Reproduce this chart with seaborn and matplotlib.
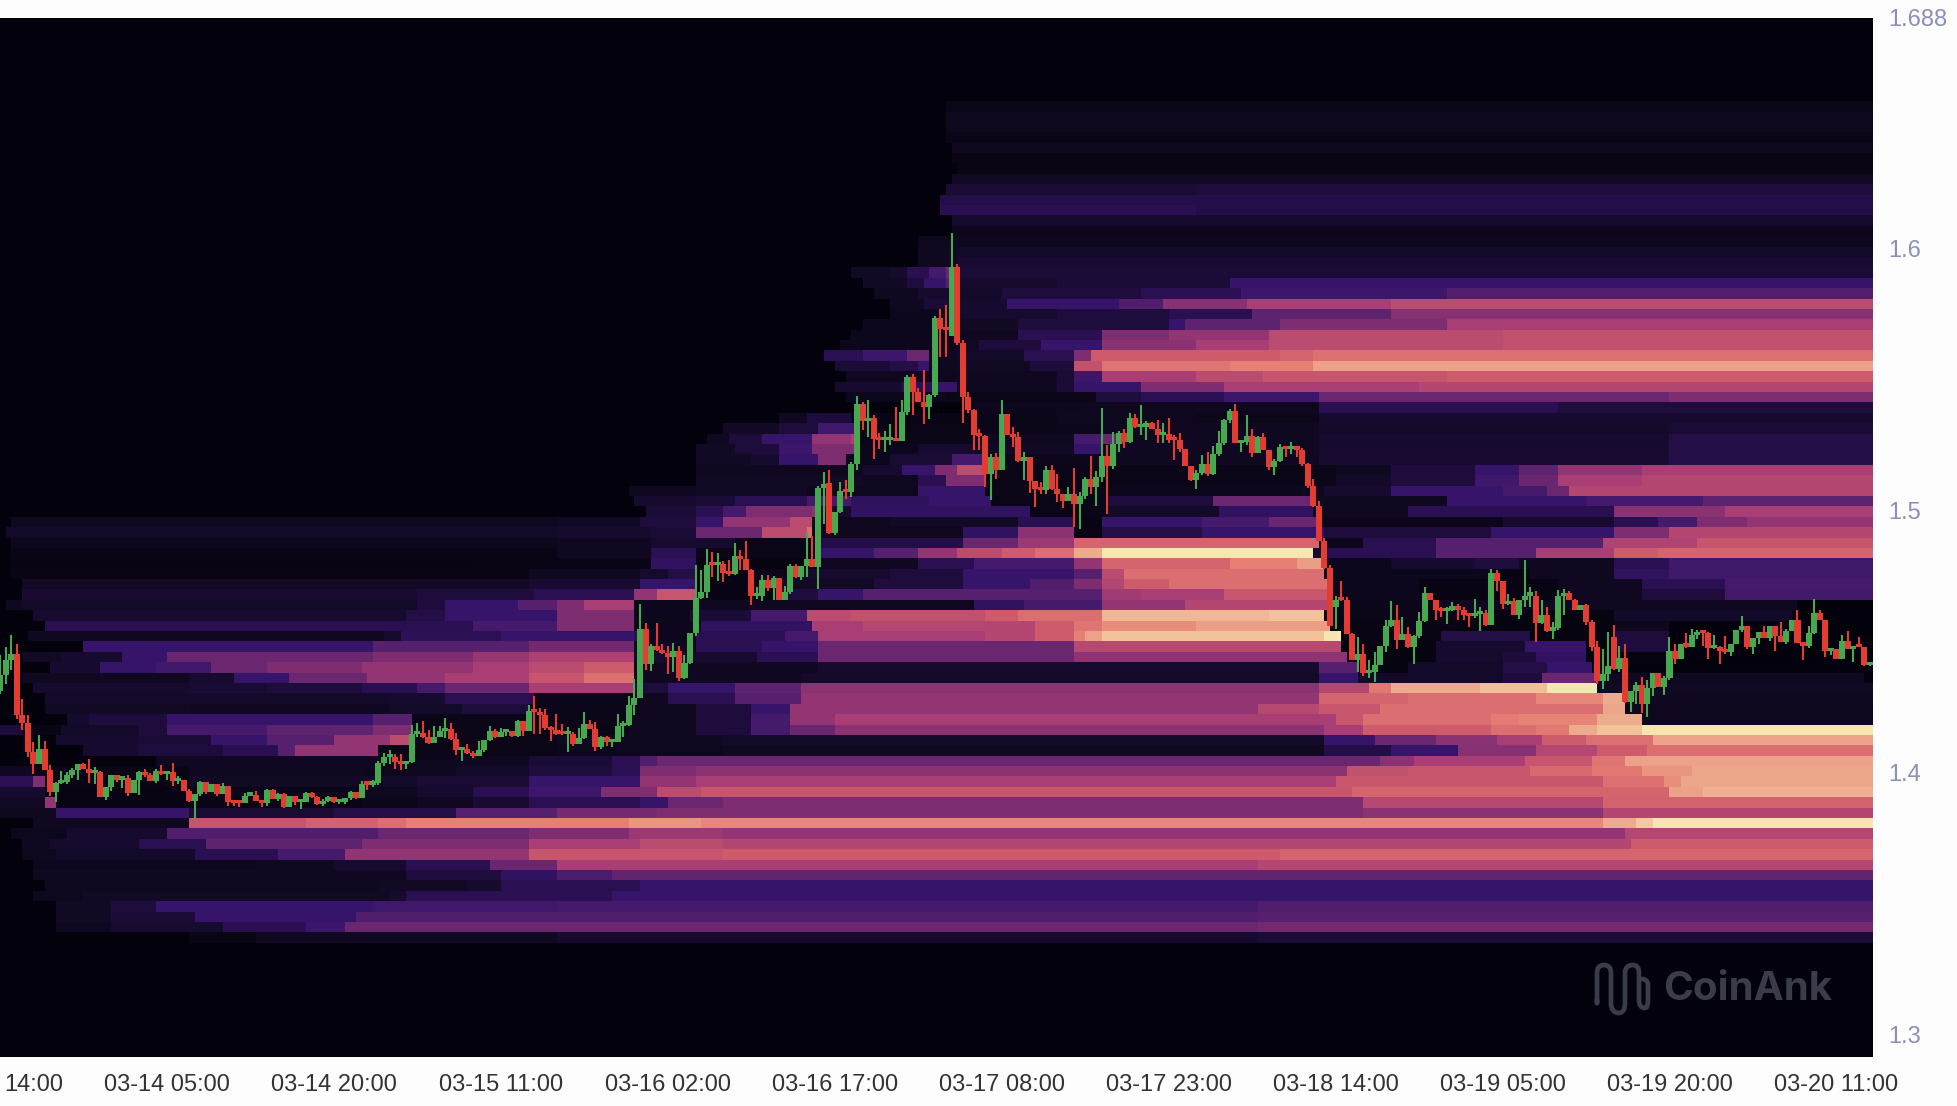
import numpy as np
import seaborn as sns
import matplotlib
matplotlib.use("Agg")
import matplotlib.pyplot as plt
from matplotlib.colors import LinearSegmentedColormap
from matplotlib.path import Path
from matplotlib.patches import PathPatch

# ---------- candles, one every 30 min from 03-13 14:00 ----------
closes = [
1.437,1.4427,1.4453,1.4217,1.4189,1.4077,1.4032,1.409,1.4009,1.3926,
1.396,1.3962,1.3988,1.4007,1.403,1.4011,1.3997,1.4,1.3907,1.3943,
1.3991,1.3972,1.3979,1.392,1.3971,1.4,1.3991,1.3968,1.4004,1.3994,
1.4,1.3965,1.3971,1.393,1.389,1.3918,1.3962,1.3924,1.3956,1.3918,
1.3949,1.3886,1.3883,1.3882,1.3911,1.3915,1.389,1.3883,1.3933,1.3898,
1.3918,1.3867,1.3909,1.3886,1.3886,1.3921,1.3905,1.3879,1.3889,1.3904,
1.3885,1.3887,1.3902,1.3924,1.3902,1.3955,1.3953,1.396,1.4036,1.4057,
1.4057,1.4038,1.4032,1.4041,1.4146,1.4149,1.4134,1.4111,1.4134,1.4159,
1.4166,1.4127,1.4086,1.4089,1.4073,1.4061,1.4086,1.4125,1.4157,1.4134,
1.4154,1.4157,1.4139,1.4195,1.4159,1.4233,1.423,1.422,1.4168,1.4162,
1.4146,1.4145,1.4146,1.4108,1.413,1.4185,1.4166,1.4095,1.4136,1.4115,
1.4116,1.4176,1.4181,1.4258,1.4284,1.4548,1.4414,1.4482,1.4468,1.4455,
1.4442,1.4463,1.4361,1.4418,1.4533,1.4666,1.4687,1.4792,1.479,1.4794,
1.4762,1.4756,1.4824,1.4815,1.4771,1.4672,1.4675,1.4733,1.4705,1.4743,
1.4656,1.4689,1.4787,1.4745,1.4787,1.4815,1.4784,1.5087,1.509,1.4913,
1.4994,1.5074,1.507,1.5178,1.5405,1.5342,1.5352,1.5274,1.527,1.527,
1.5278,1.5264,1.5375,1.5509,1.5452,1.5414,1.5395,1.544,1.5735,1.5694,
1.5688,1.593,1.5639,1.5432,1.5382,1.5287,1.5283,1.514,1.5204,1.5155,
1.5369,1.5287,1.528,1.5188,1.5204,1.5112,1.5083,1.5076,1.5153,1.5083,
1.5064,1.5035,1.5061,1.5025,1.5055,1.5118,1.509,1.5127,1.5208,1.5169,
1.5252,1.5297,1.5261,1.5354,1.5318,1.5318,1.5334,1.5312,1.5287,1.5293,
1.527,1.5268,1.5236,1.5168,1.5117,1.5144,1.5176,1.514,1.5214,1.5259,
1.5344,1.538,1.5257,1.5261,1.5284,1.5219,1.528,1.5232,1.5166,1.5189,
1.5241,1.5235,1.5237,1.5232,1.5178,1.5095,1.5015,1.4885,1.4781,1.456,
1.4658,1.4656,1.4529,1.443,1.4452,1.4378,1.4382,1.4411,1.4481,1.4558,
1.4583,1.4507,1.4529,1.4478,1.452,1.4577,1.4685,1.4658,1.4618,1.4615,
1.4618,1.4634,1.462,1.4601,1.4595,1.4605,1.4607,1.4564,1.4762,1.4729,
1.4643,1.4653,1.4599,1.4656,1.4675,1.4675,1.4569,1.4602,1.4541,1.4551,
1.4672,1.4685,1.4658,1.4618,1.4638,1.4573,1.4478,1.435,1.4375,1.4404,
1.4395,1.4436,1.4267,1.431,1.4335,1.4261,1.432,1.438,1.4327,1.4361,
1.4465,1.4433,1.4488,1.448,1.4523,1.4532,1.4531,1.4475,1.4475,1.4465,
1.4459,1.449,1.4545,1.4557,1.4478,1.4511,1.4536,1.4513,1.4558,1.4522,
1.4497,1.4539,1.458,1.4493,1.4484,1.4532,1.4609,1.4582,1.4462,1.4469,
1.4431,1.4501,1.4471,1.4481,1.4478,1.4408,1.4414]
highs = [
1.4446,1.448,1.4525,1.4488,1.428,1.4217,1.4115,1.4143,1.4121,1.4026,
1.3962,1.4004,1.4,1.4017,1.4032,1.4035,1.4051,1.4022,1.4004,1.3943,
1.3991,1.3991,1.3981,1.3988,1.3971,1.4004,1.4013,1.3996,1.4013,1.4026,
1.4003,1.4035,1.3984,1.3971,1.3937,1.3918,1.3968,1.3961,1.3956,1.3956,
1.3958,1.3949,1.389,1.389,1.392,1.392,1.393,1.3894,1.3937,1.3937,
1.392,1.392,1.3911,1.3909,1.3892,1.3924,1.3926,1.3911,1.3898,1.3911,
1.3904,1.3898,1.3902,1.393,1.3924,1.3965,1.3958,1.3971,1.4045,1.4074,
1.4085,1.407,1.407,1.4045,1.418,1.4189,1.4195,1.4162,1.4175,1.4175,
1.4208,1.4187,1.4149,1.4095,1.4108,1.4083,1.4121,1.4125,1.4178,1.4165,
1.4169,1.4162,1.4157,1.42,1.4195,1.4258,1.4293,1.4246,1.4242,1.4178,
1.4222,1.4185,1.4172,1.4153,1.4169,1.423,1.42,1.4191,1.414,1.414,
1.4121,1.4223,1.4195,1.4293,1.4357,1.4643,1.457,1.4488,1.457,1.4491,
1.4484,1.4493,1.4484,1.4446,1.4533,1.479,1.4773,1.4854,1.4841,1.4838,
1.4806,1.4809,1.4877,1.4847,1.4885,1.4777,1.4707,1.4752,1.4752,1.4748,
1.4743,1.471,1.4794,1.4794,1.4787,1.4917,1.4901,1.5093,1.5147,1.5156,
1.4994,1.5108,1.5115,1.5185,1.5436,1.5414,1.5421,1.5363,1.5296,1.5303,
1.5331,1.5395,1.5421,1.5516,1.5522,1.5467,1.5535,1.5446,1.5742,1.577,
1.5783,1.606,1.594,1.565,1.5453,1.5388,1.5312,1.5287,1.5217,1.5219,
1.5423,1.5369,1.5318,1.5299,1.5223,1.5204,1.5112,1.5108,1.5168,1.5172,
1.5138,1.5064,1.509,1.5163,1.507,1.5127,1.5206,1.515,1.5392,1.5248,
1.5299,1.5305,1.5309,1.5372,1.5367,1.5401,1.5342,1.5338,1.5346,1.5334,
1.5354,1.5287,1.5295,1.5236,1.5168,1.5155,1.521,1.5223,1.5245,1.5303,
1.535,1.5388,1.5405,1.5261,1.5363,1.5312,1.5284,1.5295,1.5232,1.5195,
1.5255,1.524,1.5261,1.5243,1.524,1.518,1.512,1.5036,1.4895,1.4793,
1.4675,1.4729,1.4671,1.4531,1.4516,1.4488,1.4427,1.4458,1.4481,1.4582,
1.4653,1.4637,1.4592,1.4554,1.4526,1.4611,1.4707,1.4685,1.4658,1.4633,
1.4633,1.465,1.4641,1.4633,1.4605,1.4662,1.4633,1.4618,1.4777,1.4771,
1.4729,1.4681,1.4666,1.4656,1.4811,1.4709,1.4694,1.4656,1.4633,1.4573,
1.4697,1.47,1.4694,1.4662,1.4638,1.4643,1.458,1.4501,1.4471,1.4535,
1.4561,1.4484,1.449,1.431,1.4344,1.4363,1.4353,1.438,1.438,1.4369,
1.4516,1.449,1.4488,1.4531,1.4548,1.4544,1.4541,1.4535,1.4526,1.4484,
1.4522,1.449,1.4545,1.4595,1.4557,1.4511,1.4536,1.4557,1.4558,1.4558,
1.4573,1.4548,1.458,1.462,1.4493,1.4557,1.4662,1.4618,1.4582,1.4469,
1.4469,1.4526,1.4539,1.4481,1.4516,1.4478,1.442]
lows = [
1.43,1.4338,1.4389,1.4202,1.416,1.4058,1.3994,1.403,1.4007,1.3909,
1.3888,1.3956,1.3956,1.3977,1.3971,1.4011,1.3958,1.3956,1.3905,1.3895,
1.393,1.3962,1.3939,1.3911,1.3924,1.3915,1.3981,1.3965,1.396,1.3988,
1.3971,1.3949,1.3956,1.3928,1.3886,1.3819,1.3911,1.3918,1.3924,1.3911,
1.3918,1.3873,1.3873,1.3867,1.3882,1.3909,1.389,1.3869,1.3873,1.3898,
1.3892,1.3864,1.3873,1.3877,1.3858,1.3886,1.3901,1.3877,1.387,1.3888,
1.3884,1.3879,1.3879,1.3894,1.3898,1.3907,1.3934,1.3943,1.3953,1.4023,
1.4032,1.4013,1.401,1.4013,1.4036,1.4134,1.4131,1.4108,1.4111,1.4134,
1.4131,1.4125,1.4067,1.4044,1.407,1.4053,1.4061,1.4076,1.4119,1.4131,
1.4134,1.414,1.4134,1.4134,1.414,1.4159,1.4146,1.4146,1.4162,1.4119,
1.4144,1.4144,1.4076,1.4102,1.4111,1.4127,1.4164,1.408,1.4088,1.4102,
1.4095,1.4115,1.4134,1.4177,1.422,1.4284,1.4389,1.4386,1.4465,1.4452,
1.4376,1.4382,1.435,1.4357,1.4414,1.4522,1.4662,1.4666,1.4745,1.473,
1.4726,1.4749,1.4752,1.4771,1.4771,1.4637,1.4662,1.4654,1.4694,1.4656,
1.4656,1.4656,1.4682,1.4743,1.4735,1.4745,1.4784,1.4701,1.4949,1.4908,
1.4905,1.4991,1.5045,1.5051,1.5153,1.5308,1.528,1.5198,1.5236,1.5223,
1.5249,1.5264,1.5264,1.5363,1.5363,1.5414,1.5331,1.535,1.5433,1.5586,
1.5586,1.5666,1.563,1.5332,1.537,1.5229,1.5229,1.5089,1.5041,1.5121,
1.5153,1.5287,1.5242,1.5185,1.5115,1.5066,1.5013,1.5064,1.5064,1.5079,
1.5032,1.501,1.5034,1.4936,1.493,1.5044,1.5064,1.5017,1.5108,1.4985,
1.5159,1.5223,1.5239,1.5257,1.5316,1.5287,1.527,1.5312,1.5257,1.5257,
1.5257,1.5191,1.5223,1.5168,1.5112,1.5083,1.5134,1.513,1.5137,1.5208,
1.5248,1.5335,1.5257,1.5223,1.5248,1.5204,1.5222,1.5232,1.5155,1.5134,
1.5183,1.5204,1.5215,1.5205,1.517,1.5085,1.5013,1.4883,1.4777,1.4558,
1.4548,1.4653,1.4529,1.4427,1.4382,1.4369,1.436,1.4344,1.4411,1.4458,
1.4554,1.4471,1.4509,1.4475,1.4414,1.4513,1.4573,1.4658,1.4582,1.4592,
1.4567,1.4615,1.4582,1.4582,1.4554,1.459,1.4539,1.4558,1.4564,1.4694,
1.4624,1.4637,1.4599,1.4586,1.4633,1.4631,1.4497,1.4567,1.4535,1.4509,
1.4545,1.4602,1.4658,1.4618,1.4618,1.4564,1.4462,1.4338,1.4319,1.435,
1.4389,1.4382,1.4264,1.4229,1.4261,1.4225,1.421,1.4293,1.4327,1.4297,
1.4354,1.4414,1.4433,1.4474,1.448,1.4509,1.4484,1.4433,1.4471,1.4414,
1.4452,1.4443,1.4488,1.4535,1.4471,1.4452,1.449,1.4513,1.4503,1.4465,
1.4497,1.449,1.4539,1.4493,1.4427,1.4475,1.4529,1.4582,1.4442,1.4446,
1.4431,1.444,1.4471,1.442,1.4478,1.4404,1.4404]
open_gaps = {149: 1.5105, 171: 1.5666, 240: 1.4630, 290: 1.4516}

# ---------- liquidation intensity (0..10) per price row: (candle index where level starts, level) ----------
row_levels = {
8: [(170,.6)], 9: [(170,.9)], 10: [(170,.9)], 11: [(170,.6)], 12: [(171,.9)], 13: [(171,.5)],
14: [(172,.5)], 15: [(171,1.2)], 16: [(170,1.7),(215,2)], 17: [(169,2.3)], 18: [(169,2.5),(215,2.3)],
19: [(171,1.5)], 20: [(171,.7)], 21: [(165,.9)], 22: [(165,1),(172,1.3)], 23: [(165,1),(172,1.6)],
24: [(153,1.2),(160,1.5),(163,2.5),(167,3.5),(170,4.5),(172,1.8)],
25: [(155,1.2),(163,2),(166,3),(170,4),(172,1.5),(190,1.8),(221,3)],
26: [(157,1),(165,1.5),(172,1.3),(180,2),(205,2.5),(223,3.2),(260,3.9)],
27: [(160,1),(166,1.8),(172,1.5),(181,3),(201,3.8),(209,5.2),(224,6),(250,6.5)],
28: [(160,.8),(170,1.5),(190,2),(210,2.5),(225,4.2),(250,5.2)],
29: [(155,.8),(172,1.2),(183,2),(210,3),(213,4.2),(230,5),(260,6)],
30: [(153,.8),(172,1),(183,2.5),(198,5),(210,5.5),(228,6.5),(270,6.7)],
31: [(151,.8),(172,1.2),(176,2),(187,3),(198,5.3),(215,6),(228,6.5),(270,6.7)],
32: [(148,2.5),(155,3.2),(163,4.5),(167,1),(172,1.3),(184,2.5),(193,5),(196,7),(230,7.3),(236,7.6)],
33: [(150,1.8),(160,2.2),(165,3),(167,1),(172,1.2),(185,2),(193,6.7),(198,7.7),(221,8),(236,8.8)],
34: [(152,1),(167,.9),(172,1),(190,1.7),(193,3.2),(198,6),(215,6.5),(227,6.8),(260,7)],
35: [(150,1.5),(162,2.5),(168,3),(172,1),(190,1.8),(193,3),(205,5),(220,6),(255,6.3)],
36: [(152,.8),(170,.6),(197,2),(205,2.5),(220,3.2),(237,4.5),(300,5)],
37: [(175,.8),(195,.9),(237,2.5),(280,2)],
38: [(140,1),(145,2),(153,.5),(175,.6),(190,.9),(215,.7),(237,1.5)],
39: [(130,1.2),(140,2),(147,3.3),(154,.6),(175,.7),(190,.8),(198,1),(237,1.3),(300,1.8)],
40: [(127,1),(131,2),(137,3),(146,5.5),(153,6),(154,.6),(175,1),(193,3.5),(198,4.5),(202,1),(237,1.5),(300,2.2)],
41: [(125,1.2),(132,2),(140,3.2),(146,5),(154,.8),(165,1.5),(175,1.2),(193,3),(198,1),(237,1.5),(300,2.2)],
42: [(125,1.2),(135,1.5),(140,3),(147,5),(152,.8),(160,1.7),(171,3.5),(177,.8),(198,1),(237,1.6),(300,2.3)],
43: [(125,1),(147,.9),(155,1.5),(162,3),(168,5),(172,6.5),(177,.6),(240,1),(250,2),(265,3),(273,4.2),(280,5.5),(295,6)],
44: [(125,1.2),(155,1),(165,2.5),(170,5),(177,.6),(240,1.3),(250,2),(265,3.3),(273,4.5),(280,6),(295,6.3)],
45: [(113,1),(125,1.2),(145,.9),(165,3),(177,.6),(199,.8),(234,1),(238,1.5),(250,3),(270,3.5),(278,4.5),(282,6.3)],
46: [(114,1.5),(125,1.8),(132,2.5),(145,3.5),(153,2.7),(167,3),(177.5,.6),(199,2),(218,4.5),(236,1),(260,3),(285,3.5),(306,4.2)],
47: [(116,1.8),(125,2.5),(130,3.5),(134,5),(146,5.3),(147,1.5),(153,2.8),(185,.6),(199,1.3),(219,2.8),(236,1),(253,2.5),(290,5.3),(310,6)],
48: [(1.6,1),(100,1.2),(115,2),(125,3),(130,5.5),(142,6.5),(146.5,.9),(160,1.2),(183,2.5),(193,.4),(198,3),(216,3.5),(228,4.5),(237,.7),(270,1.5),(290,2.5),(298,3.5),(305,5),(314,5.5)],
49: [(1,1.3),(100,1.5),(117,1.8),(125,4.5),(137,6.5),(145,7.5),(146.5,.9),(173,2.8),(183,5.3),(193,.5),(198,2.2),(216,3),(238,2),(268,3),(290,5),(300,6.3)],
50: [(2.4,.8),(100,1),(117,1.5),(132,.6),(147,2.3),(173,4.5),(183,5.7),(193,7.3),(237,.8),(245,2.5),(258,4),(288,6.2),(305,6.8)],
51: [(2.5,.5),(60,.5),(100,1),(117,2.5),(125,.6),(147,3),(157,4),(165,5.5),(172,6.5),(180,7),(186,7.5),(193,9),(198,10),(236.5,1.5),(238,2.5),(258,4),(276,6),(290,7),(298,7.3)],
52: [(2.5,.4),(85,.5),(117,2.8),(125,.3),(147,1),(165,2.5),(175,3.5),(193,5.5),(198,7.3),(221,8),(233,8.7),(237.5,.8),(250,1.5),(265,2),(273,1),(290,2.5),(300,3.3)],
53: [(2.4,.5),(95,1),(115,1.5),(120,2.2),(125,.3),(135,.7),(143,1.5),(160,2),(173,3),(193,4),(198,6.5),(202,7.5),(238,.8),(268,.4),(275,1),(290,2.8),(300,3.3)],
54: [(3.5,1.2),(95,1.6),(115,3),(124.8,.4),(140,1.2),(157,2),(173,3),(185,3.8),(193,5),(198,6.3),(202,7),(210,7.5),(239,.8),(255,.4),(280,1),(295,2.5),(310,3.5)],
55: [(3.5,1.6),(75,2),(96,2.5),(114,5.5),(118,6.8),(124.8,.4),(140,2),(147,3),(155,4),(198,5.8),(205,6),(220,6.9),(239,.8),(255,.4),(280,.9),(295,2),(310,3.4)],
56: [(1,1),(4.5,1.3),(75,2),(80,3),(93,4),(100,5),(105,6),(114,.8),(126,1),(175,2.8),(184,3.5),(198,5.5),(213,6.3),(239,.7),(258,1),(323,0)],
57: [(6,1.5),(73,2.2),(80,3),(100,5),(114,.8),(124,1.8),(135,3.5),(145,6.5),(153,6.7),(177,7),(183,7.5),(198,9.2),(228,9.4),(238.2,.6),(262,.3),(290,1.3),(322,0)],
58: [(7.5,2.5),(70,2.5),(85,3.5),(100,5),(114,.8),(126,2.8),(146,6),(155,6.3),(186,7),(193,7.7),(198,8.3),(215,8.7),(239,.5),(262,.3),(290,.9),(300,0)],
59: [(5,1),(69,1.5),(72,2.6),(90,3),(114,2.5),(115,.8),(125,2.5),(141,3.5),(147,6),(177,6.3),(186,7),(193,8),(195,8.8),(198,9.4),(238,10),(241,.5),(259,2.2),(275,.3),(290,2),(300,0)],
60: [(15,3),(67,4),(95,4.7),(114,1),(125,2.5),(137,3),(147,4.5),(193,6.4),(241,.3),(258,1.5),(274,3),(285,.2),(290,2),(300,0)],
61: [(4,1.2),(11,1.5),(22,3),(30,4.5),(67,5),(85,5.6),(95,6.1),(114,1.5),(125,1.5),(136,2.5),(147,4.5),(193,5.4),(242.5,.3),(258,1.5),(270,2),(276,2.8),(285,.2),(300,0)],
62: [(9,1.5),(18,3),(28,3.3),(38,4.5),(48,5),(65,5.5),(85,6),(95,6.5),(105,7),(114,1),(147,1.5),(237,4),(243.7,.2),(253,1.3),(270,2.2),(278,3),(286,.1)],
63: [(4,1),(34,1.5),(42,3),(52,4.5),(66,5.5),(80,6),(95,6.8),(105,7.6),(114,1),(144,1.4),(237,3),(244,1.3),(270,2),(277,4.5),(287,1),(335,.1)],
64: [(6.5,1.5),(34,1.7),(48,2),(65,2.5),(75,3.5),(80,4.5),(95,6),(113.5,2),(120,3),(132,4.2),(144,5.3),(237,6.3),(246,7.8),(250,9),(266,9.3),(278,10),(287.4,1.2)],
65: [(7.5,1.3),(34,1.3),(70,1.5),(80,2.5),(95.5,.7),(113,1),(120,2.5),(132,4),(144,5.5),(237,7.3),(253,7.5),(276,8.2),(288,9),(291.5,1)],
66: [(8,1.2),(34,1.1),(70,1.3),(83,2),(95,.7),(113,1),(125,2),(135,3),(142,5.5),(226,6.4),(237,6.9),(248,7.5),(288,8.9),(292,.9)],
67: [(12,1.5),(16,2),(30,3),(67,4),(74,.6),(113,1),(125,2),(135,3.5),(142,5.5),(150,6),(240,6.9),(245,7.5),(268,7.9),(273,8.1),(287,9),(295,.9)],
68: [(0,2),(3.6,.5),(11,1.3),(25,2),(30,3.5),(48,4.2),(67,5),(74,.6),(113,1),(125,2),(135,3.5),(142,4.5),(150,5.3),(238,6),(245,7),(268,7.5),(276,7.8),(282,9),(287,9.4),(295,10)],
69: [(10,1.5),(25,1.8),(38,3),(48,4),(60,5.5),(70,6.5),(74,.6),(100,1),(130,1.3),(238,3),(247,4.5),(258,5.3),(269,6),(277,7),(285,7.6),(297,8.8)],
70: [(15,1.5),(25,2),(40,2.5),(50,4),(53,5.5),(68,.6),(100,.8),(130,1),(238,2.2),(250,3),(262,5.2),(276,6.3),(287,7),(296,7.5)],
71: [(28.5,1),(34,1.1),(68,.8),(82,1),(95,1.8),(110,2.5),(115,3.8),(118,4.5),(248,5.3),(254,6),(274,6.8),(286,7.7),(292,8.8)],
72: [(0,1),(6,.5),(34,1),(65,.9),(82,1.3),(95,2),(110,2.5),(115,5),(125,5.3),(242,6.7),(253,6.9),(275,7.4),(286,7.8),(295,8.5),(304,8.9)],
73: [(0,2.5),(5.5,5),(8.5,.5),(34,1.2),(65,1.3),(75,1.7),(95,3),(115,5.5),(125,6),(240,6.9),(288,7.6),(299,8.3),(302,8.9)],
74: [(0,1.5),(8.5,.4),(34,.7),(65,.9),(75,1.5),(85,2.5),(95,3.2),(108,5),(118,6.5),(126,6.8),(243,7.3),(300,8.8),(306,9.1)],
75: [(0,1.2),(8.5,5.5),(9.5,.4),(34,.5),(65,.7),(75,1),(85,1.6),(95,2.5),(115,3),(120,4.5),(130,5),(245,6.4),(288,7.2)],
76: [(0,.9),(10,3),(34.5,1.7),(60,2.2),(82,4),(100,4.8),(118,5),(245,5.3),(288,6.3)],
77: [(5.5,1),(34.5,6.8),(55,7.2),(68,7.5),(73,8),(113,8.5),(126,8.2),(288,9),(294,9.5),(297,10)],
78: [(2.5,.8),(12,1.5),(30,3.8),(68,4.5),(95,5),(113,5.7),(130,5.5),(292,6.3)],
79: [(3.5,1),(9,1.5),(25,2.5),(37,4.2),(65,5),(95,6),(115,6.5),(130,6.3),(293,7)],
80: [(3.5,.9),(10,1.3),(35,2.5),(50,3.5),(62,5.5),(95,6.8),(130,7),(230,7.3)],
81: [(6,.8),(46,1),(60,1.5),(73,2.5),(88,4.5),(100,6),(226,6.3)],
82: [(6.5,1),(66,1.1),(73,2),(90,2.8),(100,3.7),(110,4.3)],
83: [(7.5,.9),(68,1.2),(84,1.5),(90,2.5),(115,3)],
84: [(6,.9),(15,1.2),(70,1.5),(73,2.5),(110,3)],
85: [(10,1.2),(20,2),(28,3),(67,3.3),(100,3.5),(226,3.8)],
86: [(9.5,1.2),(20,1.8),(35,3),(64,3.8),(226,4)],
87: [(9.5,1),(20,1.5),(40,2.5),(55,3.2),(62,4.5),(226,4.8)],
88: [(34,.5),(46,1),(100,1.5),(226,1.8)],
}
n_rows, n_cols = 100, len(closes)

x_tick_candles = [30, 60, 90, 120, 150, 180, 210, 240, 270, 300, 330]
x_tick_labels = ["03-14 05:00", "03-14 20:00", "03-15 11:00", "03-16 02:00", "03-16 17:00",
                 "03-17 08:00", "03-17 23:00", "03-18 14:00", "03-19 05:00", "03-19 20:00", "03-20 11:00"]
first_label = "14:00"
y_ticks = [1.688, 1.6, 1.5, 1.4, 1.3]
y_labels = ["1.688", "1.6", "1.5", "1.4", "1.3"]
price_top, price_bottom = 1.688, 1.2913

# ---------- build matrix ----------
matrix = np.zeros((n_rows, n_cols))
for row, segs in row_levels.items():
    for j, (start, val) in enumerate(segs):
        end = segs[j + 1][0] if j + 1 < len(segs) else n_cols
        matrix[row, int(round(start)):int(round(end))] = val

heat = LinearSegmentedColormap.from_list("heat", [
    "#03020c", "#0f0820", "#1e0c3c", "#35146a", "#56206e", "#7d2d71",
    "#a83e73", "#cc5a6c", "#e67f74", "#edaa8c", "#f8e6b0"])

W, H = 1958, 1106
fig = plt.figure(figsize=(W / 100, H / 100), dpi=100, facecolor="#fdfdfd")
ax = fig.add_axes([0, 1 - 1057 / H, 1873 / W, 1039 / H])
sns.heatmap(matrix, cmap=heat, vmin=0, vmax=10, cbar=False, xticklabels=False,
            yticklabels=False, ax=ax, rasterized=True)
ax.set_xlim(0, 1873 / 5.565)

ax.set_xticks(x_tick_candles + [0.7])
ax.set_xticklabels(x_tick_labels + [first_label], fontsize=17, color="#333333",
                   family="Liberation Sans")
ax.get_xticklabels()[-1].set_ha("left")
ax.tick_params(axis="x", length=0, pad=12)
ax.set_xlabel("")
ax.set_ylabel("")

ax2 = ax.twinx()
ax2.set_ylim(price_bottom, price_top)
ax2.set_xlim(ax.get_xlim())
ax2.set_yticks(y_ticks)
ax2.set_yticklabels(y_labels, fontsize=17, color="#8a90b8", family="Liberation Sans")
ax2.tick_params(axis="y", length=0, pad=11)
for s in list(ax.spines.values()) + list(ax2.spines.values()):
    s.set_visible(False)

# ---------- candles ----------
green, red = "#47a94f", "#e23c33"
xs = np.arange(n_cols)
opens = np.array([closes[0] - 0.006] + closes[:-1])
for k, v in open_gaps.items():
    opens[k] = v
closes_a = np.array(closes)
colors = [green if c >= o else red for o, c in zip(opens, closes_a)]
ax2.vlines(xs, lows, highs, colors=colors, linewidth=1.5, zorder=3)
body_low = np.minimum(opens, closes_a)
body_h = np.maximum(np.abs(closes_a - opens), 0.0012)
ax2.bar(xs, body_h, bottom=body_low, width=1.08, color=colors, linewidth=0, zorder=4)

# ---------- watermark ----------
wm = "#393c49"
fig.text(1663 / W, 1 - 990 / H, "CoinAnk", fontsize=29, color=wm, family="Inter",
         fontweight="bold", va="center", ha="left")
def P(x, y):
    return (x / W, 1 - y / H)
M, L, C = Path.MOVETO, Path.LINETO, Path.CURVE3
pts = [((1597, 1000), M), ((1597, 1003), L),
       ((1597, 1003), L), ((1597, 973), L), ((1597, 965), C), ((1604, 965), C),
       ((1611, 965), C), ((1611, 973), C), ((1611, 1003), L), ((1611, 1013), C), ((1619, 1013), C),
       ((1625, 1013), C), ((1625, 1003), C), ((1625, 973), L), ((1625, 965), C), ((1633, 965), C),
       ((1639, 965), C), ((1639, 973), C), ((1639, 1000), L), ((1639, 1008), C), ((1645, 1008), C),
       ((1648, 1008), C), ((1648, 1000), C), ((1648, 985), L), ((1648, 980), C), ((1643, 979), C)]
verts = [P(*p) for p, _ in pts]
codes = [c for _, c in pts]
fig.add_artist(PathPatch(Path(verts, codes), transform=fig.transFigure, fill=False,
                         edgecolor=wm, linewidth=3.4, capstyle="round", joinstyle="round"))

fig.savefig("out.png", dpi=100, facecolor=fig.get_facecolor())
